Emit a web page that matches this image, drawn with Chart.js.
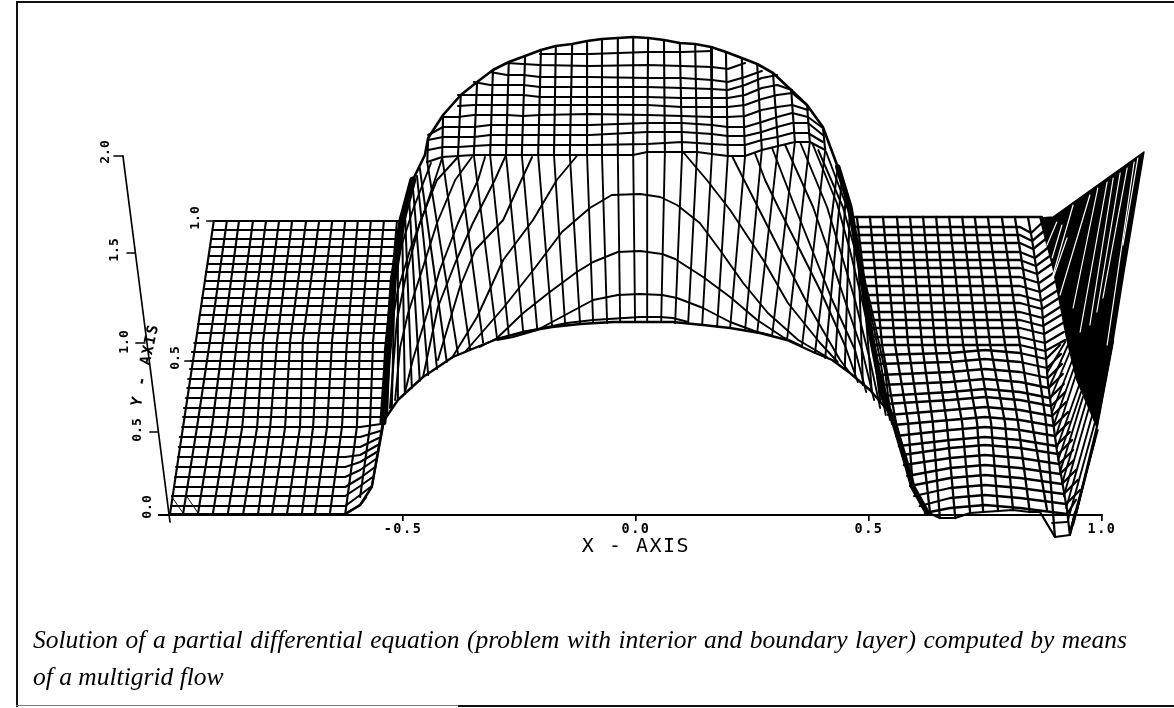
<!DOCTYPE html>
<html lang="en">
<head>
<meta charset="UTF-8">
<title>Multigrid solution surface</title>
<script src="https://cdn.jsdelivr.net/npm/chart.js"></script>
<style>
    body { margin: 0; background: #fff; }
    #wrap { position: relative; width: 1174px; height: 708px; overflow: hidden; }
    canvas { position: absolute; left: 0; top: 0; }
    .rule { position: absolute; background: #111; }
    .caption {
        position: absolute; left: 33px; width: 1094px;
        font: italic 25.5px "Liberation Serif", serif; color: #000; white-space: nowrap;
    }
    #cap1 { top: 625px; white-space: normal; text-align: justify; text-align-last: justify; }
    #cap2 { top: 662px; }
</style>
</head>
<body>
<div id="wrap">
    <canvas id="surface" width="1174" height="708"></canvas>
    <div class="rule" style="left:16px;top:1px;width:1158px;height:2px"></div>
    <div class="rule" style="left:16px;top:1px;width:2px;height:706px"></div>
    <div class="rule" style="left:16px;top:705px;width:442px;height:1px;background:#777"></div>
    <div class="rule" style="left:458px;top:705px;width:716px;height:2px"></div>
    <div class="caption" id="cap1">Solution of a partial differential equation (problem with interior and boundary layer) computed by means</div>
    <div class="caption" id="cap2">of a multigrid flow</div>
</div>
<script>
// axis text
const xTickValues = [-0.5, 0, 0.5, 1];
const xTickLabels = ['-0.5', '0.0', '0.5', '1.0'];
const sideLabels = ['2.0', '1.5', '1.0', '0.5', '0.0', '1.0', '0.5'];
const sideLabelX = [-1.139, -1.118, -1.097, -1.069, -1.047, -0.946, -0.989];
const sideLabelY = [1.815, 1.325, 0.865, 0.425, 0.04, 1.485, 0.785];

// base line and slanted side axis with its ticks
const baseLineX = [-1.024, 1];
const baseLineY = [0, 0];
const sideAxisX = [-1.101, -1];
const sideAxisY = [1.795, -0.035];
const sideTickX0 = [-1.120, -1.092, -1.073, -1.043, -1.024, -0.921, -0.968];
const sideTickX1 = [-1.101, -1.075, -1.054, -1.026, -1, -0.906, -0.951];
const sideTickY = [1.795, 1.31, 0.86, 0.415, 0, 1.47, 0.77];

// left plate: cross wires
const plateRowY = [1.47,1.425,1.38,1.34,1.295,1.255,1.215,1.17,1.13,1.085,1.045,1,0.955,0.91,0.86,0.815,0.77,0.73,0.68,0.635,0.585,0.535,0.49,0.44,0.39,0.34,0.29,0.24,0.19,0.14,0.095,0.045,0.005];
const plateRowLeftX = [-0.906,-0.908,-0.912,-0.914,-0.916,-0.918,-0.923,-0.925,-0.927,-0.931,-0.933,-0.936,-0.94,-0.942,-0.948,-0.953,-0.955,-0.957,-0.961,-0.963,-0.966,-0.97,-0.972,-0.974,-0.979,-0.981,-0.983,-0.987,-0.989,-0.991,-0.996,-0.998,-1];
const plateRowKneeY = [1.47,1.425,1.38,1.34,1.295,1.255,1.215,1.17,1.13,1.085,1.045,1,0.955,0.91,0.86,0.815,0.77,0.73,0.68,0.635,0.585,0.535,0.49,0.44,0.39,0.34,0.30,0.265,0.225,0.185,0.145,0.10,0.05];
const plateRowEndX = [-0.502,-0.504,-0.506,-0.511,-0.513,-0.515,-0.517,-0.519,-0.521,-0.524,-0.524,-0.526,-0.526,-0.528,-0.53,-0.532,-0.534,-0.534,-0.536,-0.539,-0.539,-0.541,-0.541,-0.547,-0.549,-0.552,-0.554,-0.556,-0.558,-0.56,-0.562,-0.567,-0.579];
const plateRowEndY = [1.47,1.425,1.38,1.34,1.295,1.255,1.215,1.17,1.13,1.085,1.045,1,0.955,0.91,0.86,0.815,0.77,0.73,0.68,0.635,0.585,0.535,0.49,0.455,0.42,0.385,0.35,0.315,0.28,0.24,0.195,0.145,0.09];

// left plate: long wires
const plateColTopX = [-0.906,-0.878,-0.852,-0.822,-0.794,-0.766,-0.738,-0.708,-0.68,-0.652,-0.624,-0.597,-0.569,-0.541,-0.513];
const plateColMid1X = [-0.944,-0.914,-0.886,-0.856,-0.828,-0.8,-0.77,-0.742,-0.715,-0.682,-0.652,-0.62,-0.592,-0.564,-0.534];
const plateColMid2X = [-0.972,-0.942,-0.91,-0.878,-0.845,-0.813,-0.785,-0.753,-0.721,-0.693,-0.663,-0.631,-0.599,-0.571,-0.543];
const plateColBotX = [-1,-0.972,-0.94,-0.908,-0.876,-0.843,-0.811,-0.781,-0.749,-0.717,-0.689,-0.657,-0.624,-0.592,-0.567];
const plateColBotY = [0.005,0.005,0.005,0.005,0.005,0.005,0.005,0.005,0.005,0.005,0.005,0.005,0.005,0.09,0.14];
const plateColLevels = [1.47, 0.875, 0.44];
const plateCornerX0 = [-0.996, -0.963];
const plateCornerX1 = [-0.972, -0.94];
const plateCornerY = [0.09, 0.01];

// dome cap: wires over the top, from crest to front edge
const domeTopX = [-0.446,-0.414,-0.376,-0.341,-0.307,-0.273,-0.238,-0.204,-0.172,-0.137,-0.105,-0.073,-0.039,-0.006,0.026,0.06,0.094,0.127,0.161,0.193,0.227,0.26,0.294,0.333,0.367,0.401];
const domeTopY = [1.885,2,2.1,2.165,2.225,2.265,2.295,2.325,2.345,2.355,2.37,2.38,2.385,2.39,2.385,2.375,2.36,2.355,2.34,2.315,2.285,2.255,2.21,2.125,2.05,1.94];
const frontEdgeX = [-0.448,-0.416,-0.382,-0.348,-0.313,-0.279,-0.245,-0.21,-0.176,-0.142,-0.105,-0.073,-0.039,-0.006,0.024,0.062,0.099,0.131,0.163,0.197,0.234,0.27,0.305,0.341,0.373,0.406];
const frontEdgeY = [1.765,1.79,1.795,1.8,1.8,1.8,1.8,1.8,1.8,1.8,1.8,1.8,1.8,1.8,1.815,1.815,1.815,1.815,1.805,1.795,1.795,1.825,1.845,1.865,1.865,1.825];

// dome cap: rows across, sampled at the same x positions
const domeRowX = [-0.446,-0.414,-0.382,-0.348,-0.313,-0.277,-0.242,-0.206,-0.099,0.024,0.099,0.163,0.197,0.234,0.27,0.303,0.335,0.369,0.401];
const domeRows = [
    [1.825,1.84,1.84,1.845,1.85,1.85,1.85,1.85,1.85,1.855,1.865,1.855,1.85,1.85,1.875,1.89,1.91,1.91,1.865],
    [1.875,1.89,1.89,1.89,1.9,1.9,1.9,1.9,1.9,1.915,1.915,1.905,1.895,1.895,1.915,1.94,1.96,1.96,1.9],
    [1.9,1.94,1.94,1.94,1.95,1.95,1.95,1.95,1.95,1.96,1.96,1.95,1.94,1.94,1.965,1.99,2.01,1.99,1.935],
    [null,1.99,1.99,2,2,2,1.995,2,2.005,2,1.995,1.99,1.99,1.995,2.025,2.04,2.05,2.025,null],
    [null,null,2.045,2.05,2.05,2.05,2.05,2.05,2.05,2.05,2.04,2.04,2.04,2.05,2.08,2.1,2.11,2.045,null],
    [null,null,2.1,2.1,2.1,2.1,2.1,2.09,2.09,2.09,2.085,2.085,2.085,2.1,2.135,2.15,2.125,null,null],
    [null,null,null,2.165,2.15,2.15,2.15,2.14,2.14,2.14,2.135,2.13,2.125,2.15,2.185,2.2,null,null,null],
    [null,null,null,null,2.215,2.2,2.2,2.19,2.19,2.185,2.185,2.175,2.165,2.19,2.22,null,null,null,null],
    [null,null,null,null,null,2.26,2.255,2.25,2.245,2.25,2.245,2.24,2.23,2.26,null,null,null,null,null],
    [null,null,null,null,null,null,null,2.305,2.305,2.315,2.315,2.32,null,null,null,null,null,null,null]
];

// central wall: wires from front edge to the lower curve
const wallBotX = [-0.382,-0.356,-0.328,-0.298,-0.273,-0.242,-0.212,-0.18,-0.152,-0.12,-0.092,-0.062,-0.034,-0.002,0.024,0.054,0.084,0.112,0.142,0.174,0.202,0.234,0.26,0.292,0.324,0.356];
const wallBotY = [0.805,0.83,0.86,0.88,0.9,0.915,0.93,0.94,0.95,0.955,0.96,0.96,0.965,0.965,0.965,0.965,0.96,0.96,0.95,0.94,0.935,0.925,0.91,0.895,0.875,0.84];
const lowerCurveX = [-0.543,-0.511,-0.457,-0.393,-0.341,-0.298,-0.242,-0.18,-0.12,-0.049,0.009,0.079,0.144,0.202,0.266,0.324,0.38,0.421,0.459,0.502,0.549];
const lowerCurveY = [0.465,0.575,0.69,0.79,0.84,0.88,0.915,0.94,0.955,0.965,0.965,0.965,0.95,0.935,0.91,0.875,0.815,0.775,0.71,0.625,0.5];

// steep flanks of the wall
const flankTopX = [-0.464,-0.47,-0.479,-0.487,-0.496,-0.502,-0.511,-0.517,-0.524,0.433,0.442,0.451,0.459,0.468,0.476,0.485,0.494,0.502];
const flankTopY = [1.735,1.695,1.645,1.585,1.525,1.475,1.375,1.275,1.15,1.74,1.685,1.625,1.55,1.475,1.375,1.25,1.125,0.975];
const flankBotX = [-0.406,-0.427,-0.446,-0.464,-0.481,-0.496,-0.511,-0.524,-0.534,0.384,0.406,0.427,0.448,0.47,0.487,0.506,0.524,0.536];
const flankBotY = [0.765,0.73,0.7,0.67,0.635,0.605,0.575,0.535,0.5,0.81,0.785,0.765,0.73,0.69,0.65,0.615,0.57,0.535];

// arcs and diagonals across the wall
const arcX = [
    [-0.242,-0.148,-0.092,0.009,0.052,0.079,0.112],
    [-0.298,-0.264,-0.212,-0.152,-0.092,-0.039,0.009,0.056,0.088,0.144,0.202,0.26,0.288],
    [-0.335,-0.298,-0.242,-0.185,-0.127,-0.092,-0.039,0.009,0.056,0.084,0.144,0.202,0.26,0.315,0.352],
    [-0.367,-0.285,-0.217,-0.159,-0.099,-0.052,0.009,0.052,0.088,0.137,0.18,0.23,0.283,0.348,0.41],
    [-0.395,-0.341,-0.285,-0.221,-0.17,-0.127],
    [-0.425,-0.378,-0.345,-0.285,-0.249,-0.223],
    [-0.457,-0.425,-0.388,-0.35,-0.303,-0.281],
    [-0.496,-0.479,-0.448,-0.421,-0.382,-0.339,-0.324],
    [-0.517,-0.506,-0.489,-0.459,-0.427,-0.388,-0.352],
    [-0.528,-0.513,-0.491,-0.464,-0.427,-0.382],
    [-0.536,-0.532,-0.511,-0.485,-0.453,-0.416],
    [-0.541,-0.539,-0.528,-0.506,-0.479,-0.44],
    [0.101,0.152,0.202,0.273,0.326,0.395,0.433],
    [0.206,0.232,0.305,0.367,0.438,0.459],
    [0.255,0.277,0.305,0.341,0.395,0.448,0.476],
    [0.292,0.341,0.378,0.421,0.47,0.494],
    [0.32,0.38,0.412,0.448,0.485,0.511],
    [0.352,0.41,0.438,0.47,0.502,0.524],
    [0.378,0.431,0.459,0.485,0.513,0.536],
    [0.391,0.444,0.47,0.498,0.524,0.545],
    [0.408,0.455,0.481,0.506,0.534,0.549]
];
const arcY = [
    [0.915,0.96,0.975,0.99,0.99,0.985,0.965],
    [0.875,0.89,0.925,1,1.075,1.1,1.105,1.1,1.085,1.035,0.965,0.915,0.9],
    [0.84,0.885,1.01,1.115,1.215,1.265,1.315,1.32,1.305,1.28,1.19,1.09,0.975,0.89,0.85],
    [0.815,1.035,1.235,1.415,1.535,1.6,1.605,1.59,1.55,1.46,1.325,1.16,1.01,0.875,0.79],
    [0.785,0.99,1.275,1.475,1.675,1.795],
    [0.775,1.14,1.325,1.475,1.66,1.79],
    [0.69,1.04,1.26,1.46,1.675,1.79],
    [0.61,0.775,1.01,1.225,1.46,1.675,1.79],
    [0.575,0.84,1.01,1.225,1.46,1.675,1.79],
    [0.535,0.975,1.225,1.46,1.675,1.79],
    [0.5,0.85,1.125,1.325,1.525,1.785],
    [0.475,0.825,1.075,1.325,1.525,1.76],
    [1.815,1.675,1.525,1.275,1.06,0.86,0.765],
    [1.795,1.675,1.34,1.06,0.775,0.71],
    [1.81,1.675,1.54,1.375,1.125,0.85,0.665],
    [1.835,1.54,1.325,1.075,0.825,0.615],
    [1.85,1.54,1.325,1.075,0.825,0.575],
    [1.865,1.54,1.325,1.075,0.775,0.535],
    [1.86,1.56,1.325,1.075,0.775,0.5],
    [1.825,1.54,1.325,1.075,0.775,0.475],
    [1.815,1.525,1.275,1.025,0.725,0.455]
];

// heavy silhouette bands either side of the wall, thin where they meet the crest
const leftBandX = [-0.543,-0.534,-0.528,-0.521,-0.511,-0.502,-0.479];
const leftBandY = [0.465,0.775,0.925,1.175,1.325,1.475,1.675];
const leftRimX = [-0.479,-0.453,-0.446];
const leftRimY = [1.675,1.8,1.885];
const leftFootX = [-0.624,-0.592,-0.567,-0.543];
const leftFootY = [0.005,0.05,0.14,0.465];
const rightRimX = [0.401,0.433];
const rightRimY = [1.94,1.74];
const rightBandX = [0.433,0.459,0.481,0.502,0.53,0.552,0.582,0.594,0.624];
const rightBandY = [1.74,1.54,1.24,0.925,0.59,0.475,0.24,0.14,0.015];

// right plate: cross wires
const rightRowY = [1.49,1.44,1.4,1.36,1.315,1.275,1.235,1.19,1.145,1.1,1.06,1.015,0.975,0.935,0.89,0.85,0.81,0.765,0.715,0.665,0.615,0.575,0.525,0.475,0.425,0.375,0.335,0.285,0.235,0.185,0.135,0.085,0.035];
const rightRowLeftX = [0.466,0.47,0.472,0.476,0.479,0.481,0.483,0.485,0.487,0.491,0.494,0.496,0.5,0.502,0.504,0.506,0.511,0.515,0.519,0.524,0.528,0.534,0.541,0.552,0.558,0.564,0.571,0.575,0.582,0.588,0.597,0.609,0.62];
const rightRowLeftY = [1.49,1.44,1.4,1.36,1.315,1.275,1.235,1.19,1.145,1.1,1.06,1.015,0.975,0.935,0.89,0.85,0.8,0.755,0.7,0.65,0.595,0.555,0.5,0.45,0.395,0.345,0.3,0.25,0.195,0.145,0.095,0.045,0.01];
const rightRowMidY = [1.49,1.44,1.4,1.36,1.315,1.275,1.235,1.19,1.145,1.1,1.06,1.015,0.975,0.935,0.89,0.85,0.825,0.78,0.73,0.68,0.63,0.59,0.54,0.49,0.44,0.39,0.35,0.3,0.25,0.2,0.15,0.1,0.05];
const rightRowKnotX = [0.674, 0.749, 0.824];
const foldX = [0.841,0.848,0.85,0.852,0.856,0.858,0.861,0.865,0.867,0.869,0.871,0.873,0.873,0.876,0.878,0.878,0.88,0.882,0.884,0.886,0.888,0.891,0.893,0.897,0.899,0.901,0.906,0.908,0.91,0.914,0.918,0.923,0.925];
const foldY = [1.49,1.41,1.37,1.33,1.285,1.245,1.205,1.16,1.115,1.07,1.03,0.985,0.945,0.905,0.86,0.82,0.78,0.735,0.685,0.635,0.585,0.545,0.495,0.445,0.395,0.345,0.305,0.255,0.205,0.155,0.105,0.055,0.005];
const rowEdgeX = [0.871,0.873,0.878,0.882,0.886,0.891,0.895,0.899,0.901,0.906,0.908,0.91,0.912,0.916,0.918,0.921,0.91,0.912,0.914,0.916,0.918,0.921,0.923,0.927,0.929,0.931,0.936,0.938,0.94,0.944,0.948,0.953,0.944];
const rowEdgeY = [1.49,1.465,1.425,1.385,1.34,1.3,1.26,1.215,1.17,1.125,1.085,1.04,1,0.96,0.915,0.875,0.85,0.805,0.755,0.705,0.655,0.615,0.565,0.515,0.465,0.415,0.375,0.325,0.275,0.225,0.175,0.125,0.075];

// right plate: long wires
const rightColTopX = [0.474,0.502,0.53,0.56,0.588,0.616,0.644,0.672,0.7,0.727,0.755,0.785,0.813];
const rightColMid1X = [0.506,0.528,0.556,0.584,0.614,0.642,0.67,0.702,0.732,0.76,0.792,0.824,0.856];
const rightColMid2X = [0.554,0.558,0.584,0.609,0.637,0.667,0.7,0.732,0.762,0.792,0.82,0.85,0.88];
const rightColBotX = [0.554,0.582,0.594,0.631,0.652,0.685,0.717,0.745,0.777,0.809,0.845,0.882,0.899];
const rightColBotY = [0.455,0.24,0.14,0.01,-0.015,-0.015,0.01,0.015,0.02,0.025,0.015,0.025,-0.11];
const rightColLevels = [1.49, 0.85, 0.46];

// front lip of the right plate, the pit, the fold line
const lipX = [0.624,0.652,0.685,0.717,0.745,0.809,0.845,0.867,0.899,0.931,0.942];
const lipY = [0.015,-0.015,-0.015,0.01,0.015,0.025,0.015,0.015,-0.11,-0.1,0.015];
const pitRowX = [0.893, 0.925];
const pitRowY = [-0.04, -0.035];
const foldLineX = [0.841,0.85,0.871,0.878,0.884,0.903,0.925,0.931];
const foldLineY = [1.49,1.375,1.04,0.84,0.66,0.325,0.025,-0.1];

// dark spike on the right
const spikeX = [0.867,0.895,1.09,1.045,1.024,0.989,0.946,0.925,0.895,0.867];
const spikeY = [1.485,1.49,1.815,1.185,0.875,0.44,0.675,0.875,1.235,1.485];
const outerEdgeX = [1.024,0.989,0.946,0.931];
const outerEdgeY = [0.875,0.44,0.025,-0.1];
const gapTopX = [0.938,0.974,0.991,1.011,1.024,1.039,1.054,1.069,1.077,0.903,0.914,0.925];
const gapTopY = [1.55,1.6,1.635,1.665,1.685,1.71,1.735,1.765,1.785,1.465,1.45,1.385];
const gapBotX = [0.893,0.91,0.938,0.953,0.974,0.989,1.002,1.011,1.045,0.882,0.893,0.895];
const gapBotY = [1.185,1.1,1.035,0.915,0.95,1.015,1.085,0.85,1.35,1.35,1.285,1.185];
const hatchBotX = [0.882,0.886,0.888,0.893,0.897,0.901,0.903,0.906,0.91,0.914,0.918,0.923,0.927,0.931,0.938,0.944];
const hatchBotY = [0.71,0.635,0.575,0.515,0.455,0.395,0.335,0.275,0.215,0.155,0.095,0.035,-0.025,-0.085,-0.05,0];
const hatchTopX = [0.921,0.927,0.931,0.938,0.942,0.946,0.951,0.955,0.959,0.966,0.972,0.979,0.985,0.991,0.985,0.976];
const hatchTopY = [0.865,0.85,0.815,0.785,0.75,0.715,0.65,0.615,0.59,0.565,0.535,0.5,0.465,0.425,0.375,0.3];

const ink = '#000';
const datasets = [];

function wire(xs, ys, width, extra) {
    const pts = [];
    xs.forEach((x, i) => { if (ys[i] !== null) pts.push({ x: x, y: ys[i] }); });
    datasets.push(Object.assign({
        data: pts, showLine: true, fill: false, tension: 0, pointRadius: 0,
        borderColor: ink, borderWidth: width || 2.1, borderCapStyle: 'round',
        borderJoinStyle: 'round', clip: false, order: 5
    }, extra || {}));
}

// axes
wire(baseLineX, baseLineY, 2);
wire(sideAxisX, sideAxisY, 1.7);
sideTickY.forEach((y, i) => wire([sideTickX0[i], sideTickX1[i]], [y, y], 1.7));

// left plate
plateRowY.forEach((y, i) => wire(
    [plateRowLeftX[i], -0.624, -0.592, plateRowEndX[i]],
    [y, y, plateRowKneeY[i], plateRowEndY[i]]));
plateColTopX.forEach((x, i) => wire(
    [x, plateColMid1X[i], plateColMid2X[i], plateColBotX[i]],
    [plateColLevels[0], plateColLevels[1], plateColLevels[2], plateColBotY[i]]));
plateCornerX0.forEach((x, i) => wire([x, plateCornerX1[i]], plateCornerY, 1));

// dome cap and wall
wire(domeTopX, domeTopY, 2.6);
wire(frontEdgeX, frontEdgeY, 2.2);
domeTopX.forEach((x, i) => wire([x, frontEdgeX[i]], [domeTopY[i], frontEdgeY[i]]));
domeRows.forEach(row => wire(domeRowX, row));
frontEdgeX.forEach((x, i) => wire([x, wallBotX[i]], [frontEdgeY[i], wallBotY[i]], 1.9));
flankTopX.forEach((x, i) => wire([x, flankBotX[i]], [flankTopY[i], flankBotY[i]], 2));
arcX.forEach((xs, i) => wire(xs, arcY[i], 1.9));
wire(lowerCurveX, lowerCurveY, 2.4);
wire(leftBandX, leftBandY, 7);
wire(leftRimX, leftRimY, 2.6);
wire(leftFootX, leftFootY, 2.4);
wire(rightRimX, rightRimY, 2.6);
wire(rightBandX, rightBandY, 5.5);

// right plate
rightRowY.forEach((y, i) => wire(
    [rightRowLeftX[i], rightRowKnotX[0], rightRowKnotX[1], rightRowKnotX[2], foldX[i], rowEdgeX[i]],
    [rightRowLeftY[i], y, rightRowMidY[i], y, foldY[i], rowEdgeY[i]], 2.3));
rightColTopX.forEach((x, i) => wire(
    [x, rightColMid1X[i], rightColMid2X[i], rightColBotX[i]],
    [rightColLevels[0], rightColLevels[1], rightColLevels[2], rightColBotY[i]], 2.3));
wire(lipX, lipY, 2.2);
wire(pitRowX, pitRowY, 2);
wire(foldLineX, foldLineY, 2.2);

// spike
hatchBotX.forEach((x, i) => wire([x, hatchTopX[i]], [hatchBotY[i], hatchTopY[i]], 1.9));
wire(outerEdgeX, outerEdgeY, 2.2);
wire(spikeX, spikeY, 1.5, { fill: 'shape', backgroundColor: ink, order: 2 });
gapTopX.forEach((x, i) => wire([x, gapBotX[i]], [gapTopY[i], gapBotY[i]], 1.2, { borderColor: '#fff', order: 1 }));

// slanted labels and the axis names, centred on the plot and not on the scale box
const sideText = {
    id: 'sideText',
    beforeDraw(chart) { chart.ctx.letterSpacing = '1.5px'; },
    afterDraw(chart) {
        const ctx = chart.ctx, sx = chart.scales.x, sy = chart.scales.y;
        ctx.save();
        ctx.letterSpacing = '0px';
        ctx.fillStyle = ink;
        ctx.textAlign = 'center';
        ctx.textBaseline = 'middle';
        ctx.font = 'bold 13px "DejaVu Sans Mono"';
        sideLabels.forEach((t, i) => {
            ctx.save();
            ctx.translate(sx.getPixelForValue(sideLabelX[i]), sy.getPixelForValue(sideLabelY[i]));
            ctx.rotate(-Math.PI / 2);
            ctx.fillText(t, 0, 0);
            ctx.restore();
        });
        ctx.letterSpacing = '1.5px';
        ctx.font = '20px "DejaVu Sans Mono"';
        ctx.fillText('X - AXIS', sx.getPixelForValue(0), sy.getPixelForValue(-0.16));
        ctx.font = 'bold 15px "DejaVu Sans Mono"';
        ctx.translate(sx.getPixelForValue(-1.052), sy.getPixelForValue(0.75));
        ctx.rotate(-78 * Math.PI / 180);
        ctx.fillText('Y - AXIS', 0, 0);
        ctx.restore();
    }
};

new Chart(document.getElementById('surface'), {
    type: 'scatter',
    data: { datasets: datasets },
    options: {
        responsive: false,
        animation: false,
        layout: { padding: { left: 170, right: 0, top: 0, bottom: 148 } },
        plugins: { legend: { display: false }, tooltip: { enabled: false } },
        scales: {
            x: {
                type: 'linear', min: -1, max: 1.1545,
                afterBuildTicks: s => { s.ticks = xTickValues.map(v => ({ value: v })); },
                afterFit: s => { s.height = 45; },
                ticks: {
                    autoSkip: false, maxRotation: 0, color: ink, padding: 0,
                    font: { family: 'DejaVu Sans Mono', size: 13.5, weight: 'bold' },
                    callback: v => xTickLabels[xTickValues.indexOf(v)]
                },
                grid: { drawOnChartArea: false, color: ink, lineWidth: 1.7, tickLength: 6 },
                border: { display: false }
            },
            y: { type: 'linear', min: 0, max: 2.575, display: false }
        }
    },
    plugins: [sideText]
});
</script>
</body>
</html>
